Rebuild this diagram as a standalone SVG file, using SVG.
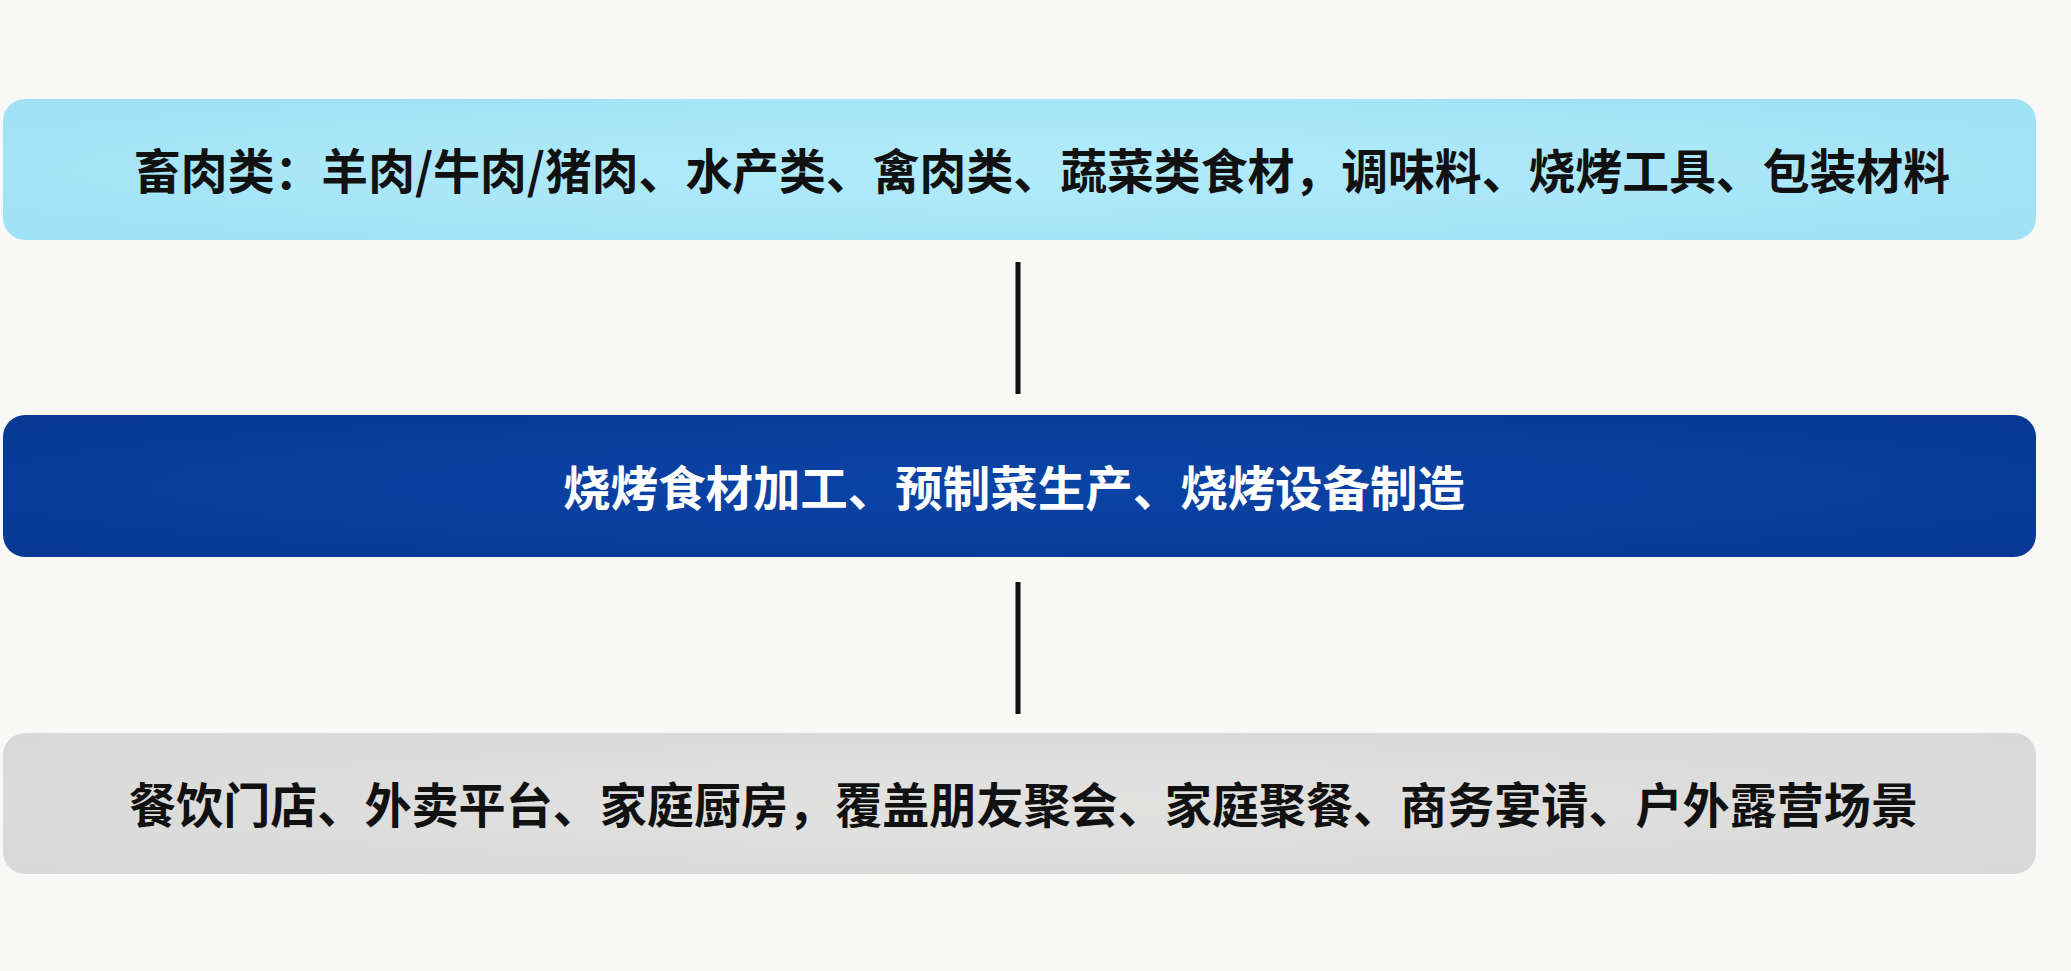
<svg xmlns="http://www.w3.org/2000/svg" width="2071" height="971" viewBox="0 0 2071 971">
<defs>
<radialGradient id="gTop" cx="0.5" cy="0.5" r="0.7">
<stop offset="0" stop-color="#b2ecfb"/>
<stop offset="1" stop-color="#9fe1f6"/>
</radialGradient>
<radialGradient id="gMid" cx="0.5" cy="0.5" r="0.7">
<stop offset="0" stop-color="#0b44a6"/>
<stop offset="1" stop-color="#073894"/>
</radialGradient>
<radialGradient id="gBot" cx="0.5" cy="0.5" r="0.7">
<stop offset="0" stop-color="#e2e2e1"/>
<stop offset="1" stop-color="#d8d8d8"/>
</radialGradient>
</defs>
<style>
.lbl{font-family:"Noto Sans CJK SC","Noto Sans",sans-serif;font-weight:700;font-size:48px}
.dark{fill:#111111}
.light{fill:#ffffff}
.conn{stroke:#111111;stroke-width:5;stroke-linecap:butt}
</style>
<rect x="0" y="0" width="2071" height="971" fill="#f8f8f6"/>
<g id="connectors">
<line class="conn" x1="1018" y1="262" x2="1018" y2="394"/>
<line class="conn" x1="1018" y1="582" x2="1018" y2="714"/>
</g>
<g id="node-upstream">
<rect x="3" y="99" width="2033" height="141" rx="22" fill="url(#gTop)"/>
<text class="lbl dark" x="134" y="189" textLength="1816" lengthAdjust="spacingAndGlyphs">畜肉类：羊肉/牛肉/猪肉、水产类、禽肉类、蔬菜类食材，调味料、烧烤工具、包装材料</text>
</g>
<g id="node-midstream">
<rect x="3" y="415" width="2033" height="142" rx="22" fill="url(#gMid)"/>
<text class="lbl light" x="563" y="506" textLength="902" lengthAdjust="spacingAndGlyphs">烧烤食材加工、预制菜生产、烧烤设备制造</text>
</g>
<g id="node-downstream">
<rect x="3" y="733" width="2033" height="141" rx="22" fill="url(#gBot)"/>
<text class="lbl dark" x="129" y="823" textLength="1789" lengthAdjust="spacingAndGlyphs">餐饮门店、外卖平台、家庭厨房，覆盖朋友聚会、家庭聚餐、商务宴请、户外露营场景</text>
</g>
</svg>
